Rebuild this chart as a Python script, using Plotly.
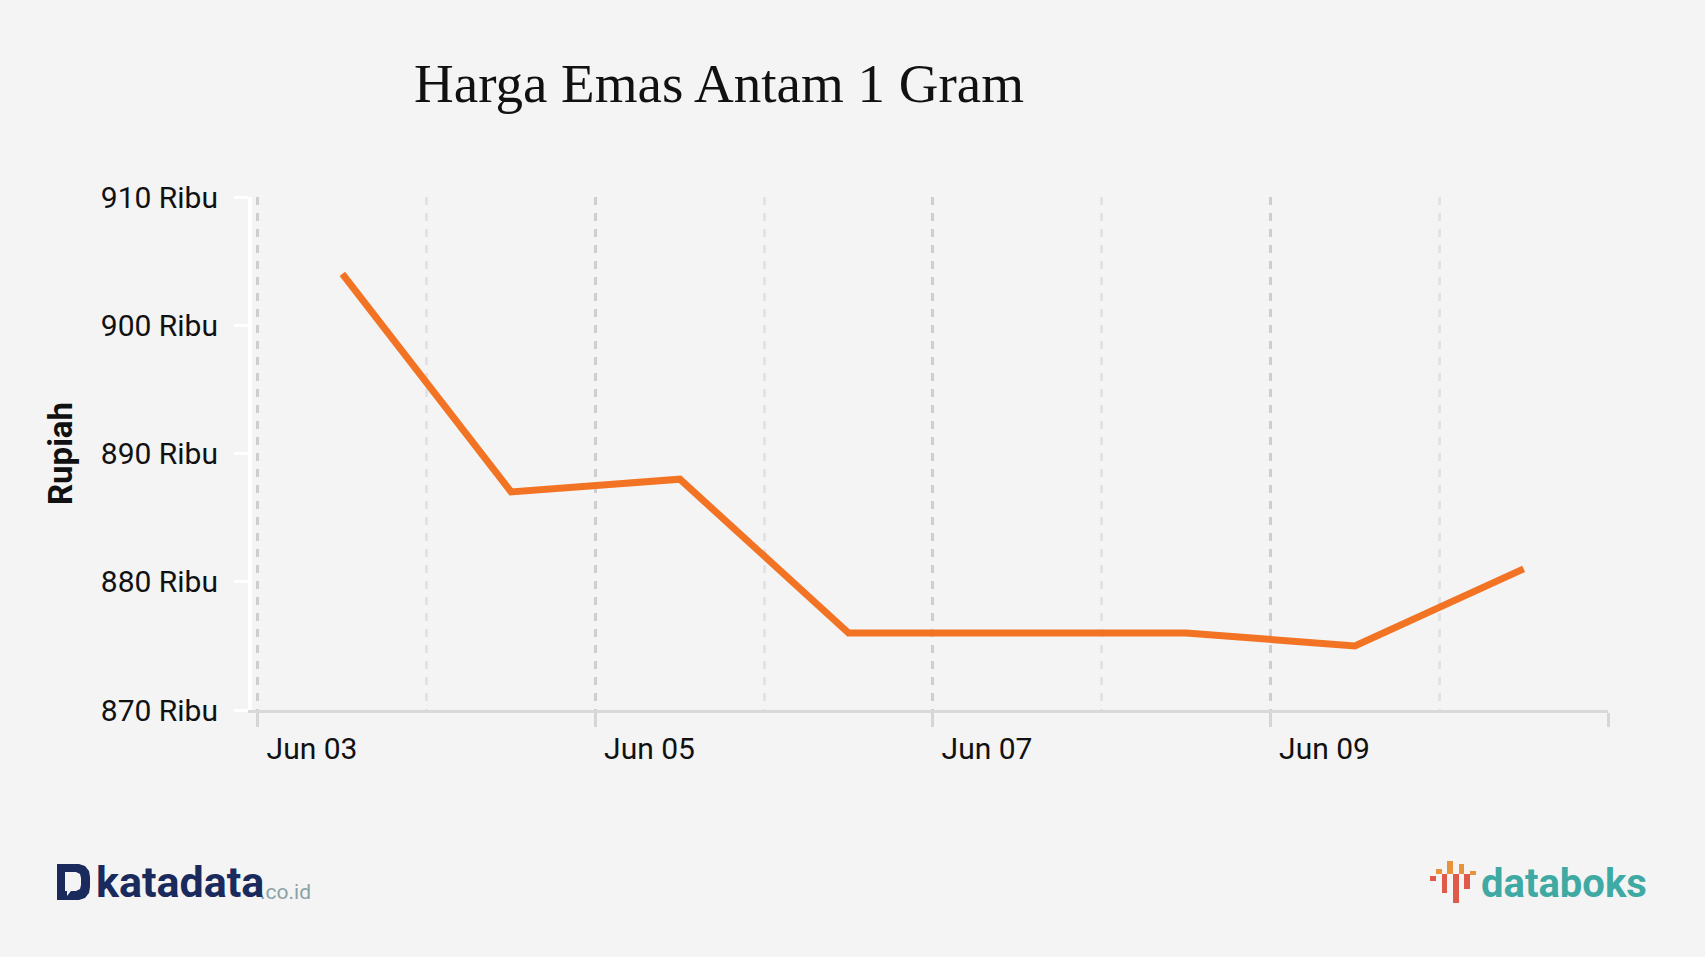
import plotly.graph_objects as go

# ---- data ----
dates = ["2020-06-03 12:00", "2020-06-04 12:00", "2020-06-05 12:00", "2020-06-06 12:00",
         "2020-06-07 12:00", "2020-06-08 12:00", "2020-06-09 12:00", "2020-06-10 12:00"]
harga = [904000, 887000, 888000, 876000, 876000, 876000, 875000, 881000]
y_tickvals = [870000, 880000, 890000, 900000, 910000]
y_ticktext = ["870 Ribu", "880 Ribu", "890 Ribu", "900 Ribu", "910 Ribu"]
x_tickvals = ["2020-06-03", "2020-06-05", "2020-06-07", "2020-06-09", "2020-06-11"]
x_ticktext = ["Jun 03", "Jun 05", "Jun 07", "Jun 09", ""]

W, H = 1705, 957
L, R, T, B = 252, 97, 197, 247
PW, PH = W - L - R, H - T - B

def px(x):
    return (x - L) / PW

def py(y):
    return (H - B - y) / PH

fig = go.Figure()
fig.add_trace(go.Scatter(
    x=dates, y=harga, mode="lines",
    line=dict(color="#f37324", width=7),
    hoverinfo="x+y", showlegend=False,
))

fig.update_layout(
    width=W, height=H,
    margin=dict(l=L, r=R, t=T, b=B),
    paper_bgcolor="#f4f4f4", plot_bgcolor="#f4f4f4",
    font=dict(family="Roboto", color="#111111"),
    xaxis=dict(
        type="date",
        range=["2020-06-02 23:09", "2020-06-11 00:00"],
        tickmode="array", tickvals=x_tickvals, ticktext=x_ticktext,
        showgrid=True, gridcolor="#cecece", griddash="8px,8px", gridwidth=2.5,
        showline=True, linecolor="#d9d9d9", linewidth=3,
        ticks="outside", ticklen=14, tickcolor="#d6d6d6", tickwidth=3,
        tickfont=dict(size=30, color="#111111"),
        ticklabelshift=54, ticklabelstandoff=-4,
        minor=dict(dtick=86400000, tick0="2020-06-03", showgrid=True,
                   gridcolor="#e3e3e3", griddash="8px,8px", gridwidth=2.5),
        zeroline=False, fixedrange=True,
    ),
    yaxis=dict(
        range=[870000, 910000],
        tickvals=y_tickvals, ticktext=y_ticktext,
        showgrid=False, zeroline=False,
        showline=True, linecolor="#ffffff", linewidth=4,
        ticks="outside", ticklen=14, tickcolor="#ffffff", tickwidth=3,
        tickfont=dict(size=30, color="#111111"),
        ticklabelstandoff=10,
        title=dict(text="<b>Rupiah</b>", font=dict(size=33, color="#111111"), standoff=19),
        fixedrange=True,
    ),
)

annotations = [
    dict(text="Harga Emas Antam 1 Gram", xref="paper", yref="paper",
         x=px(412), y=py(84), xanchor="left", yanchor="middle", showarrow=False,
         font=dict(family="Liberation Serif", size=55, color="#111111")),
    dict(text="<b>katadata</b>", xref="paper", yref="paper",
         x=px(94), y=py(901), xanchor="left", yanchor="bottom", showarrow=False,
         font=dict(family="Roboto", size=43, color="#1b2a5c"), yshift=-8),
    dict(text=".co.id", xref="paper", yref="paper",
         x=px(258), y=py(901), xanchor="left", yanchor="bottom", showarrow=False,
         font=dict(family="Roboto", size=21, color="#8aa2a6"), yshift=-5),
    dict(text="<b>databoks</b>", xref="paper", yref="paper",
         x=px(1479), y=py(883), xanchor="left", yanchor="middle", showarrow=False,
         font=dict(family="Roboto", size=40, color="#3fa9a3")),
]
fig.update_layout(annotations=annotations)

shapes = []
def path(points, close=True):
    s = "M " + " L ".join(f"{px(x)},{py(y)}" for x, y in points)
    return s + (" Z" if close else "")

# katadata "D" icon
shapes.append(dict(type="path", xref="paper", yref="paper",
                   path=path([(57, 864), (79, 864), (85, 866), (89, 871), (90, 877), (90, 887),
                              (89, 893), (85, 898), (79, 900), (57, 900)]),
                   fillcolor="#1b2a5c", line=dict(width=0)))
shapes.append(dict(type="path", xref="paper", yref="paper",
                   path=path([(65, 872), (76, 872), (80, 874), (81, 878), (81, 885), (80, 889),
                              (76, 891), (71, 891), (67, 896), (67, 891), (65, 891)]),
                   fillcolor="#f4f4f4", line=dict(width=0)))
# databoks bars icon
bars = [
    (1430, 1436, 876, 881, "#e05a4a"),
    (1436, 1442, 869, 874, "#e8923a"),
    (1442, 1447, 874, 893, "#e05a4a"),
    (1447, 1453, 861, 874, "#e8923a"),
    (1453, 1459, 874, 903, "#e05a4a"),
    (1459, 1464, 864, 874, "#e8923a"),
    (1464, 1470, 874, 889, "#e05a4a"),
    (1470, 1476, 871, 875, "#e8923a"),
]
for x0, x1, y0, y1, c in bars:
    shapes.append(dict(type="rect", xref="paper", yref="paper",
                       x0=px(x0), x1=px(x1), y0=py(y1), y1=py(y0),
                       fillcolor=c, line=dict(width=0)))
fig.update_layout(shapes=shapes)

fig.write_html("out.html", config={"displayModeBar": False},
               post_script="document.body.style.margin='0px';")
